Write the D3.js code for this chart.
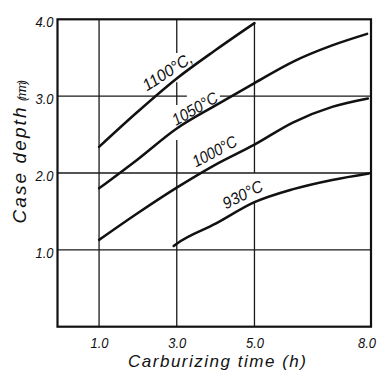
<!DOCTYPE html>
<html>
<head>
<meta charset="utf-8">
<script src="https://cdn.jsdelivr.net/npm/d3@7"></script>
<style>
  html, body { margin: 0; padding: 0; background: #fff; }
  svg { display: block; }
  text { font-family: "Liberation Sans", Arial, sans-serif; font-style: italic; fill: #111; }
</style>
</head>
<body>
<svg id="chart" width="379" height="371"></svg>
<script>
// ---- data ----
const times1100 = [1, 2, 3, 4, 5];
const depth1100 = [2.34, 2.80, 3.23, 3.60, 3.95];
const times1050 = [1, 2, 3, 4, 5, 6, 7, 7.9];
const depth1050 = [1.80, 2.18, 2.58, 2.88, 3.17, 3.45, 3.66, 3.81];
const times1000 = [1, 2, 3, 4, 5, 6, 7, 7.92];
const depth1000 = [1.13, 1.48, 1.81, 2.11, 2.37, 2.66, 2.86, 2.97];
const times930 = [2.92, 3, 4, 5, 6, 7, 7.95];
const depth930 = [1.05, 1.08, 1.34, 1.62, 1.79, 1.91, 1.995];

const seriesNames = ["1100°C,", "1050°C", "1000°C", "930°C"];
const labelTime = [2.235, 2.98, 3.496, 4.268];
const labelDepth = [3.06, 2.61, 2.07, 1.525];

const xTicks = [1, 3, 5, 8];
const xTickLabels = ["1.0", "3.0", "5.0", "8.0"];
const yTicks = [1, 2, 3, 4];
const yTickLabels = ["1.0", "2.0", "3.0", "4.0"];

// grid lines (value positions) with gaps where labels sit
const gridXValues = [1, 3, 5];
const gridXSegments = [[[0, 4]], [[0, 2.43], [2.885, 3.18], [3.56, 4]], [[0, 1.61], [2.0, 3.96]]];
const gridYValues = [1, 2, 3];
const gridYSegments = [[[-0.07, 8]], [[-0.07, 8]], [[-0.07, 3.26], [4.11, 8]]];

const xTitle = "Carburizing time (h)";
const yTitle = "Case depth";
const yUnit = "(mm)";

// ---- chart ----
const svg = d3.select("#chart");
const x = d3.scaleLinear().domain([-0.07, 8]).range([57.5, 371]);
const y = d3.scaleLinear().domain([0, 4]).range([326.7, 19.3]);

// grid
const g = svg.append("g");
gridXValues.forEach((v, i) => {
  gridXSegments[i].forEach(s => {
    g.append("line").attr("x1", x(v)).attr("x2", x(v))
      .attr("y1", y(s[0])).attr("y2", y(s[1]))
      .attr("stroke", "#1a1a1a").attr("stroke-width", 1.3);
  });
});
gridYValues.forEach((v, i) => {
  gridYSegments[i].forEach(s => {
    g.append("line").attr("y1", y(v)).attr("y2", y(v))
      .attr("x1", x(s[0])).attr("x2", x(s[1]))
      .attr("stroke", "#1a1a1a").attr("stroke-width", 1.3);
  });
});

// frame
svg.append("rect")
  .attr("x", x(-0.07)).attr("y", y(4))
  .attr("width", x(8) - x(-0.07)).attr("height", y(0) - y(4))
  .attr("fill", "none").attr("stroke", "#111").attr("stroke-width", 2.2);

// curves
const series = [
  [times1100, depth1100],
  [times1050, depth1050],
  [times1000, depth1000],
  [times930, depth930]
];
const line = d3.line().x(d => x(d[0])).y(d => y(d[1])).curve(d3.curveMonotoneX);
series.forEach(([t, dd]) => {
  svg.append("path")
    .attr("d", line(t.map((v, i) => [v, dd[i]])))
    .attr("fill", "none").attr("stroke", "#111").attr("stroke-width", 2.5)
    .attr("stroke-linecap", "round");
});

// curve labels
const labelAngle = [-33, -30, -28, -27];
const labelLen = [56, 50, 48, 43];
seriesNames.forEach((n, i) => {
  svg.append("text")
    .attr("transform", `translate(${x(labelTime[i])},${y(labelDepth[i])}) rotate(${labelAngle[i]})`)
    .attr("font-size", 16.5)
    .attr("textLength", labelLen[i]).attr("lengthAdjust", "spacingAndGlyphs")
    .text(n);
});

// axes
const yAxis = d3.axisLeft(y).tickValues(yTicks)
  .tickFormat((d, i) => yTickLabels[i]).tickSize(0).tickPadding(4);
const ya = svg.append("g").attr("transform", `translate(${x(-0.07)},0)`).call(yAxis);
ya.select(".domain").remove();
ya.selectAll("text").attr("font-size", 15).attr("dy", "0.5em")
  .attr("font-family", '"Liberation Sans", Arial, sans-serif').attr("font-style", "italic")
  .attr("fill", "#111").attr("textLength", 18).attr("lengthAdjust", "spacingAndGlyphs");

const xAxis = d3.axisBottom(x).tickValues(xTicks)
  .tickFormat((d, i) => xTickLabels[i]).tickSize(0).tickPadding(10.5);
const xa = svg.append("g").attr("transform", `translate(0,${y(0)})`).call(xAxis);
xa.select(".domain").remove();
xa.selectAll("text").attr("font-size", 15)
  .attr("font-family", '"Liberation Sans", Arial, sans-serif').attr("font-style", "italic")
  .attr("fill", "#111").attr("textLength", 18).attr("lengthAdjust", "spacingAndGlyphs")
  .attr("dx", (d, i) => i === xTicks.length - 1 ? -4.5 : 0);

// axis titles
svg.append("text")
  .attr("x", 128).attr("y", 367)
  .attr("font-family", '"Liberation Sans", Arial, sans-serif')
  .attr("font-size", 17)
  .attr("textLength", 178).attr("lengthAdjust", "spacing")
  .text(xTitle);

svg.append("text")
  .attr("transform", "translate(25.5,223.5) rotate(-90)")
  .attr("font-family", '"Liberation Sans", Arial, sans-serif')
  .attr("font-size", 19)
  .attr("textLength", 116).attr("lengthAdjust", "spacing")
  .text(yTitle);
svg.append("text")
  .attr("transform", "translate(25.5,101) rotate(-90)")
  .attr("font-family", '"Liberation Sans", Arial, sans-serif')
  .attr("font-size", 12)
  .attr("textLength", 21).attr("lengthAdjust", "spacing")
  .text(yUnit);
</script>
</body>
</html>
